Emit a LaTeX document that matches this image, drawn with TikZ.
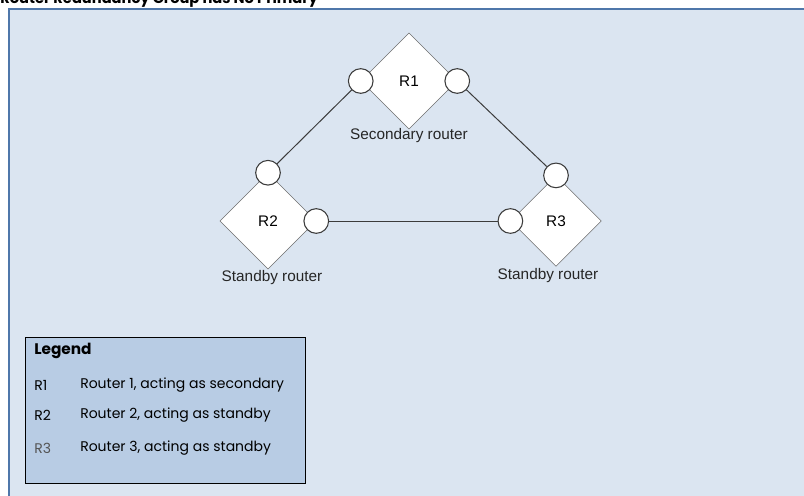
\documentclass[tikz,border=0pt]{standalone}
\usepackage{fontspec}
\setmainfont{Liberation Sans}
\newfontfamily\legendfont{Poppins}
\usepackage{tikz}
\usetikzlibrary{
    positioning,
    shapes.geometric
}
\definecolor{PanelBlue}{RGB}{219,229,241}
\definecolor{LegendBlue}{RGB}{184,204,228}
\definecolor{FrameBlue}{RGB}{79,119,170}
\definecolor{LineGray}{RGB}{60,60,60}
\definecolor{EdgeGray}{RGB}{110,110,110}
\definecolor{KeyGray}{RGB}{85,85,85}

\begin{document}
\begin{tikzpicture}[
    x=0.75pt, y=-0.75pt,
    router/.style={diamond, draw=EdgeGray, fill=white, minimum size=72pt, inner sep=0pt, font=\fontsize{11.5}{13}\selectfont},
    port/.style={circle, draw=LineGray, line width=0.8pt, fill=white, minimum size=18.5pt, inner sep=0pt},
    link/.style={draw=LineGray, line width=0.75pt},
    lbl/.style={font=\fontsize{11.5}{13}\selectfont, text=black!85, inner sep=1pt},
    key/.style={font=\legendfont\fontsize{10.5}{12}\selectfont, anchor=west, inner sep=0pt},
]
\useasboundingbox (0,0) rectangle (804,496);

% panel and title
\draw[draw=FrameBlue, line width=1pt, fill=PanelBlue] (9,9) rectangle (820,510);
\node[anchor=base west, inner sep=0pt, font=\legendfont\bfseries\fontsize{11}{13}\selectfont] (title) at (0,3) {Router Redundancy Group has No Primary};

% routers
\node[router] (r1) at (409,81) {R1};
\node[router] (r2) at (268,221) {R2};
\node[router, minimum size=68pt] (r3) at (556,221) {R3};

\node[lbl, below=-1.5pt of r1] (r1lbl) {Secondary router};
\node[lbl, below=0pt of r2, xshift=3pt] (r2lbl) {Standby router};
\node[lbl, below=0pt of r3, xshift=-6pt] (r3lbl) {Standby router};

% interfaces
\node[port] (p1w) at (r1.west) {};
\node[port] (p1e) at (r1.east) {};
\node[port] (p2n) at (r2.north) {};
\node[port] (p2e) at (r2.east) {};
\node[port] (p3n) at (r3.north) {};
\node[port] (p3w) at (r3.west) {};

\draw[link] (p1w) -- (p2n);
\draw[link] (p1e) -- (p3n);
\draw[link] (p2e) -- (p3w);

% legend
\node[draw=black, line width=0.75pt, fill=LegendBlue, minimum width=210.5pt, minimum height=109.5pt, inner sep=0pt] (legend) at (165.5,410) {};
\node[key, font=\legendfont\bfseries\fontsize{11.5}{13}\selectfont] (legtitle) at (34,351) {Legend};
\node[key] (k1) at (34,385) {R1};
\node[key] (k2) at (34,415) {R2};
\node[key, text=KeyGray] (k3) at (34,448) {R3};
\node[key] (d1) at (80,385) {Router 1, acting as secondary};
\node[key] (d2) at (80,415) {Router 2, acting as standby};
\node[key] (d3) at (80,448) {Router 3, acting as standby};
\end{tikzpicture}
\end{document}
